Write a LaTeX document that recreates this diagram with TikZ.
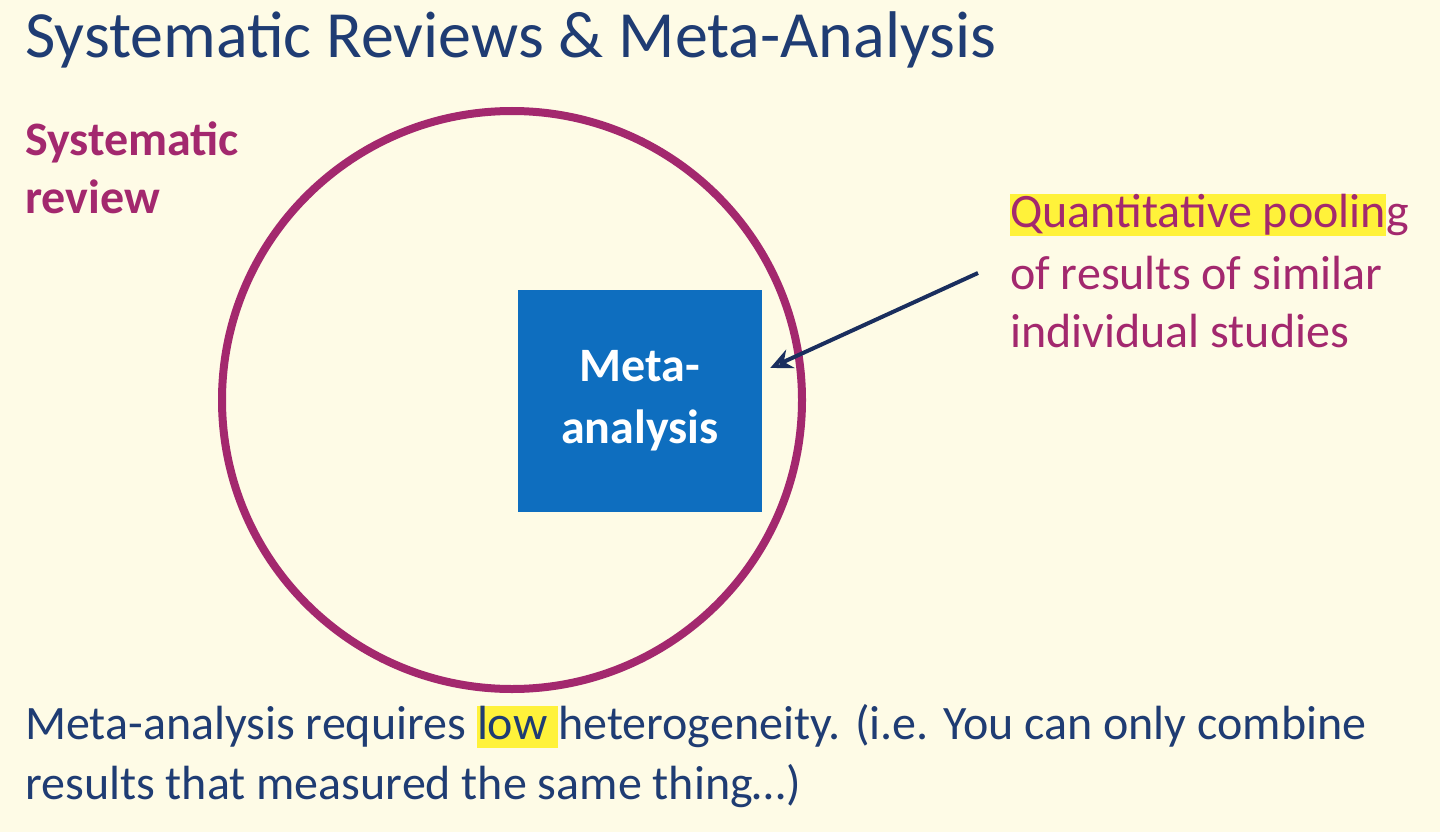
\documentclass[tikz,border=0pt]{standalone}
\usepackage{fontspec}
\setmainfont{Carlito}
\definecolor{bg}{HTML}{FEFBE6}
\definecolor{ttl}{HTML}{1F3C73}
\definecolor{purp}{HTML}{A3286E}
\definecolor{boxblue}{HTML}{0E6EBF}
\definecolor{hl}{HTML}{FFF23A}
\definecolor{navy}{HTML}{1A2E5E}
\usetikzlibrary{arrows.meta}
\newcommand\hlt[1]{{\setlength\fboxsep{0pt}\colorbox{hl}{\vphantom{Qg}#1}}}
\tikzset{
 txt/.style={anchor=west,inner sep=0pt,font=\fontsize{48}{56}\selectfont},
}
\begin{document}
\begin{tikzpicture}[x=1pt,y=-1pt]
\fill[bg] (0,0) rectangle (1440,832);
\useasboundingbox (0,0) rectangle (1440,832);
\node[txt,text=ttl,font=\fontsize{66}{76}\selectfont] (title) at (25,40) {Systematic Reviews \& Meta-Analysis};
\node[txt,text=purp,font=\fontsize{48}{58}\bfseries\selectfont,align=left] (sr) at (25,168) {Systematic\\review};
\draw[purp,line width=8pt] (512,400) ellipse [x radius=290,y radius=289];
\node[fill=boxblue,minimum width=244,minimum height=222,inner sep=0pt,text=white,font=\fontsize{48}{62}\bfseries\selectfont,align=center] (ma) at (640,401) {Meta-\\analysis};
\node[txt,text=purp] (q1) at (1010,215) {\hlt{Quantitative poolin}g};
\node[txt,text=purp] (q2) at (1010,273) {of results of similar};
\node[txt,text=purp] (q3) at (1010,331) {individual studies};
\coordinate (as) at (978,273);
\draw[navy,line width=4pt,-{Stealth[length=22pt,width=20pt,open]}] (as) -- ([xshift=8pt]ma.east |- 0,368);
\node[txt,text=ttl] (b1) at (25,726) {Meta-analysis requires \hlt{low }heterogeneity. (i.e. You can only combine};
\node[txt,text=ttl] (b2) at (25,786) {results that measured the same thing…)};
\end{tikzpicture}
\end{document}
